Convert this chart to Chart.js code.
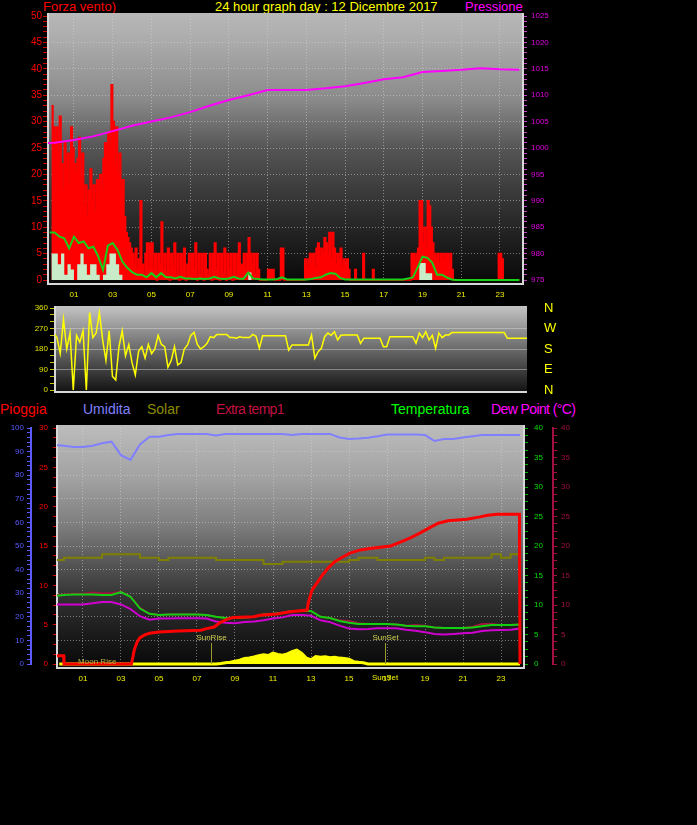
<!DOCTYPE html>
<html>
<head>
<meta charset="utf-8">
<title>24 hour graph day : 12 Dicembre 2017</title>
<script src="https://cdn.jsdelivr.net/npm/chart.js@4.4.1/dist/chart.umd.min.js"></script>
<style>
    html, body { margin: 0; padding: 0; background: #000; }
    body { width: 697px; height: 825px; position: relative; overflow: hidden; font-family: "Liberation Sans", Arial, sans-serif; }
    canvas { position: absolute; left: 0; }
    .lbl { position: absolute; font-size: 14px; line-height: 14px; white-space: nowrap; }
    .ttl { position: absolute; font-size: 13px; line-height: 13px; white-space: nowrap; top: 0; }
</style>
</head>
<body>
<div class="ttl" style="left:43px;color:#ff0000">Forza vento)</div>
<div class="ttl" style="left:215px;color:#ffff00">24 hour graph day : 12 Dicembre 2017</div>
<div class="ttl" style="left:465px;color:#ff00ff">Pressione</div>

<div class="lbl" style="left:0;top:402px;color:#ff0000">Pioggia</div>
<div class="lbl" style="left:83px;top:402px;color:#8080ff">Umidita</div>
<div class="lbl" style="left:147px;top:402px;color:#8c8c00">Solar</div>
<div class="lbl" style="left:216px;top:402px;color:#c01040;letter-spacing:-0.7px">Extra temp1</div>
<div class="lbl" style="left:391px;top:402px;color:#00ff00">Temperatura</div>
<div class="lbl" style="left:491px;top:402px;color:#ff00ff;letter-spacing:-0.6px">Dew Point (°C)</div>

<canvas id="windChart" width="697" height="300" style="top:0"></canvas>
<canvas id="dirChart" width="697" height="104" style="top:296px"></canvas>
<canvas id="weatherChart" width="697" height="300" style="top:400px"></canvas>

<script>
const hourTicks = [1, 3, 5, 7, 9, 11, 13, 15, 17, 19, 21, 23];

// raffica (km/h), un valore ogni 5 minuti a partire dalle 23:50
const windGust = [
    33, 29,
    27, 29, 24, 31, 22, 17, 26, 21, 24, 18, 29, 25,
    22, 20, 23, 27, 19, 24, 14, 18, 12, 17, 21, 15,
    18, 13, 19, 15, 20, 17, 23, 26, 21, 28, 25, 37,
    30, 22, 29, 20, 24, 17, 19, 12, 9, 8, 7, 6,
    5, 3, 6, 2, 4, 15, 3, 1, 5, 7, 2, 7,
    7, 2, 5, 0, 5, 3, 11, 2, 5, 1, 6, 0,
    5, 2, 7, 1, 5, 0, 5, 2, 6, 0, 3, 5,
    1, 5, 2, 7, 0, 5, 1, 5, 0, 5, 2, 1,
    5, 0, 5, 7, 2, 5, 0, 5, 1, 6, 0, 5,
    2, 5, 0, 5, 1, 5, 7, 3, 3, 5, 2, 5,
    8, 5, 3, 5, 1, 5, 2, 0, 0, 0, 0, 0,
    2, 2, 2, 2, 0, 0, 0, 0, 6, 6, 0, 0,
    0, 0, 0, 0, 0, 0, 0, 0, 0, 0, 0, 4,
    2, 4, 5, 3, 5, 2, 6, 7, 4, 6, 5, 8,
    7, 5, 9, 4, 9, 6, 3, 5, 4, 6, 2, 4,
    3, 4, 2, 0, 0, 0, 2, 0, 0, 0, 0, 5,
    0, 0, 0, 0, 0, 2, 0, 0, 0, 0, 0, 0,
    0, 0, 0, 0, 0, 0, 0, 0, 0, 0, 0, 0,
    0, 0, 0, 0, 0, 5, 5, 4, 5, 6, 15, 15,
    7, 10, 6, 15, 14, 10, 7, 5, 4, 5, 3, 5,
    5, 4, 5, 5, 4, 5, 2, 0, 0, 0, 0, 0,
    0, 0, 0, 0, 0, 0, 0, 0, 0, 0, 0, 0,
    0, 0, 0, 0, 0, 0, 0, 0, 0, 0, 0, 5,
    5, 4, 0, 0, 0, 0, 0, 0, 0, 0, 0, 0,
    0
];

// vento minimo, ogni 10 minuti dalle 23:50
const windLow = [
    5,
    5, 3, 5, 1, 3, 2,
    0, 3, 5, 3, 1, 3,
    3, 1, 0, 1, 3, 5,
    5, 3, 1, 0, 0, 0,
    0, 0, 0, 0, 0, 0,
    0, 0, 0, 0, 0, 0,
    0, 0, 0, 0, 0, 0,
    0, 0, 0, 0, 0, 0,
    0, 0, 0, 0, 0, 0,
    0, 0, 0, 0, 0, 0,
    1.4, 0, 0, 0, 0, 0,
    0, 0, 0, 0, 0, 0,
    0, 0, 0, 0, 0, 0,
    0, 0, 0, 0, 0, 0,
    0, 0, 0, 0, 0, 0,
    0, 0, 0, 0, 0, 0,
    0, 0, 0, 0, 0, 0,
    0, 0, 0, 0, 0, 0,
    0, 0, 0, 0, 0, 3.2,
    3.2, 1.3, 1.3, 0, 0, 0,
    0, 0, 0, 0, 0, 0,
    0, 0, 0, 0, 0, 0,
    0, 0, 0, 0, 0, 0,
    0, 0, 0, 0, 0, 0,
    0
];

// vento medio, ogni 15 minuti dalle 23:45
const windAvg = [
    9,
    9, 8.2, 7.9, 6,
    8.2, 7, 7.3, 6,
    6.3, 4.5, 1.9, 6.5,
    7, 5.7, 3.5, 2.3,
    1.5, 1, 1, 0.5,
    1.3, 0.5, 1.3, 0.5,
    0.5, 0.3, 0.6, 0.3,
    0.3, 0.2, 0.3, 0.2,
    0.3, 0.6, 0.3, 0.2,
    0.3, 0.6, 0.3, 0.2,
    1.4, 0.3, 0.2, 0.1,
    0.1, 0.1, 0.2, 0.5,
    0.1, 0.1, 0.1, 0.1,
    0.1, 0.2, 0.4, 0.5,
    1, 1.3, 1.2, 0.4,
    0.1, 0.1, 0.1, 0.1,
    0.1, 0.1, 0.1, 0.1,
    0.1, 0.1, 0.1, 0.1,
    0.1, 0.3, 0.5, 2.4,
    4.4, 4.2, 3.3, 1,
    1, 0.5, 0.1, 0,
    0, 0, 0, 0,
    0, 0, 0, 0,
    0, 0, 0, 0,
    0
];

// pressione (hPa), oraria dalle 23:00
const pressure = [1000.8, 1001.0, 1001.5, 1002.2, 1003.2, 1004.2, 1005.0, 1005.8, 1006.8, 1008.0, 1009.1,
    1010.0, 1011.0, 1011.0, 1011.0, 1011.3, 1011.7, 1012.3, 1013.0, 1013.4, 1014.4,
    1014.6, 1014.8, 1015.1, 1014.9, 1014.8];

// direzione del vento (gradi), ogni 10 minuti dalle 23:50
const windDir = [
    250,
    230, 160, 310, 180, 250, 0,
    240, 210, 260, 0, 340, 230,
    250, 340, 220, 130, 260, 60,
    44, 190, 260, 150, 200, 120,
    66, 170, 190, 140, 200, 160,
    180, 240, 200, 190, 100, 130,
    190, 110, 120, 180, 198, 240,
    253, 200, 180, 190, 205, 234,
    230, 244, 244, 244, 244, 230,
    230, 227, 234, 230, 230, 230,
    244, 236, 183, 238, 238, 238,
    238, 238, 238, 238, 238, 175,
    198, 198, 198, 198, 198, 198,
    241, 139, 168, 183, 234, 250,
    240, 256, 220, 240, 241, 241,
    241, 241, 241, 205, 227, 227,
    227, 227, 227, 227, 190, 190,
    234, 234, 234, 234, 234, 234,
    234, 234, 205, 250, 230, 256,
    220, 240, 183, 250, 230, 241,
    241, 252, 252, 252, 252, 252,
    252, 252, 252, 252, 252, 252,
    252, 252, 252, 252, 252, 252,
    227, 227, 227, 227, 227, 227,
    227
];

// pannello inferiore, valori ogni 30 minuti dalle 23:30
const humidity = [
    92.8,
    92.5, 92, 92, 92.5, 93.5, 94.2, 88.5, 86.5, 93, 96.3, 96.3, 97,
    97.5, 97.5, 97.5, 97.5, 96.8, 97.5, 97.5, 97.5, 97.5, 97.5, 97.5, 97.5,
    97, 97.5, 97.5, 97.5, 97.5, 96, 95.3, 95.5, 95.9, 96.5, 97.2, 97.2,
    97.2, 97.2, 97, 94.5, 95.3, 95.3, 96, 96.5, 97, 97, 97, 97,
    97
];
const solar = [
    44.1,
    45, 45, 45, 45, 46.5, 46.5, 46.5, 46.5, 45, 45, 44.1, 45,
    45, 45, 45, 45, 44.1, 44.1, 44.1, 44.1, 44.1, 42.4, 42.4, 43.3,
    43.3, 43.3, 43.3, 43.3, 43.3, 43.3, 44.1, 45, 45, 44.1, 44.1, 44.1,
    44.1, 44.1, 45, 44.1, 45, 45, 45, 45, 45, 46.5, 45, 46.5,
    46.5
];
const temperature = [
    11.5,
    11.7, 11.8, 11.8, 11.8, 11.7, 11.7, 12.2, 11.4, 9.4, 8.5, 8.3, 8.4,
    8.4, 8.4, 8.4, 8.3, 8.0, 7.8, 7.8, 7.9, 8.0, 8.4, 8.5, 8.7,
    9.0, 9.0, 9.0, 8.0, 7.8, 7.3, 7.0, 6.8, 6.8, 6.8, 6.8, 6.7,
    6.5, 6.4, 6.4, 6.2, 6.1, 6.1, 6.1, 6.2, 6.4, 6.6, 6.6, 6.6,
    6.7
];
const extraTemp = [
    11.6,
    11.8, 11.9, 11.9, 12.1, 12.0, 12.0, 12.3, 11.4, 9.5, 8.5, 8.3, 8.4,
    8.4, 8.4, 8.4, 8.3, 8.0, 7.8, 7.8, 7.9, 8.0, 8.4, 8.5, 8.7,
    9.0, 9.0, 9.0, 8.0, 7.8, 7.4, 7.3, 6.9, 6.8, 6.8, 6.8, 6.7,
    6.5, 6.6, 6.5, 6.2, 6.1, 6.1, 6.1, 6.3, 6.8, 6.8, 6.6, 6.6,
    6.7
];
const dewPoint = [
    10.1,
    10.1, 10.1, 10.1, 10.3, 10.5, 10.5, 10.1, 9.3, 8.1, 7.5, 7.7, 7.7,
    7.75, 7.75, 7.75, 7.7, 7.2, 7.0, 6.9, 7.1, 7.2, 7.4, 7.7, 7.9,
    8.3, 8.3, 8.2, 7.4, 7.1, 6.5, 6.0, 5.9, 5.95, 6.05, 6.05, 6.05,
    5.8, 5.65, 5.4, 5.1, 5.0, 5.1, 5.2, 5.3, 5.6, 5.7, 5.75, 5.8,
    6.0
];

// radiazione, ogni 15 minuti dalle 23:45
const radiation = [
    0,
    0, 0, 0, 0,  0, 0, 0, 0,  0, 0, 0, 0,  0, 0, 0, 0,
    0, 0, 0, 0,  0, 0, 0, 0,  0, 0, 0, 0,  0, 0, 0, 0,
    0, 0.2, 0.5, 0.8,
    1.2, 1.6, 2.3, 2.6,
    3.0, 3.5, 3.9, 3.6,
    4.6, 4.0, 3.7, 4.3,
    5.2, 5.9, 4.6, 2.5,
    1.8, 3.2, 2.9, 3.1,
    2.7, 2.9, 2.5, 2.3,
    2.0, 1.0, 0.7, 0.5,
    0, 0, 0, 0,  0, 0, 0, 0,  0, 0, 0, 0,  0, 0, 0, 0,
    0, 0, 0, 0,  0, 0, 0, 0,  0, 0, 0, 0,  0, 0, 0, 0,
    0
];

// pioggia cumulata (mm)
const rainHours = [-0.5, -0.02, 0, 3.55, 3.7, 3.85, 4.0, 4.25, 4.5, 5.0, 6.0, 7.2, 7.5, 7.9, 8.2,
    8.6, 8.9, 10.0, 10.3, 11.2, 11.9, 12.8, 12.85, 13.05, 13.3, 13.6, 13.9, 14.25, 14.6, 15.05,
    15.6, 16.2, 17.2, 17.7, 18.2, 18.7, 19.3, 19.7, 20.2, 21.2, 21.9, 22.3, 22.8, 23.97, 24.0];
const rainMm = [1.05, 1.05, 0, 0, 1.8, 2.8, 3.35, 3.7, 3.9, 4.07, 4.2, 4.3, 4.5, 4.7, 5.25,
    5.7, 5.9, 6.0, 6.2, 6.35, 6.65, 6.85, 7.7, 9.4, 10.25, 11.3, 12.2, 13.0, 13.5, 14.1,
    14.5, 14.7, 15.0, 15.5, 16.0, 16.6, 17.4, 17.9, 18.2, 18.4, 18.7, 18.9, 19.05, 19.05, 0];

const sunRiseHour = 7.75;
const sunSetHour = 16.9;
const moonRiseHour = 1.75;

const compassDegrees = [0, 90, 180, 270, 360];
const compassLabels = ['N', 'E', 'S', 'W', 'N'];

Chart.defaults.font.family = '"Liberation Sans", Arial, sans-serif';
Chart.defaults.animation = false;

const gridColor = 'rgba(215,215,215,0.5)';
const noClip = { left: 0, top: false, right: false, bottom: false };

function toPoints(values, startHour, stepMin) {
    return values.map((v, i) => ({ x: startHour + i * stepMin / 60, y: v }));
}

function steps(min, max, step) {
    let out = [];
    for (let v = min; v <= max + 1e-9; v += step) out.push({ value: Math.round(v * 1000) / 1000 });
    return out;
}

function pad2(v) {
    return String(v).padStart(2, '0');
}

const panelBg = {
    id: 'panelBg',
    beforeDraw(chart, args, opts) {
        const ctx = chart.ctx, a = chart.chartArea;
        const top = a.top - opts.extTop, bottom = a.bottom + opts.extBottom;
        const g = ctx.createLinearGradient(0, top, 0, bottom);
        opts.stops.forEach(s => g.addColorStop(s[0], s[1]));
        ctx.save();
        ctx.fillStyle = g;
        ctx.fillRect(a.left, top, a.right - a.left, bottom - top);
        ctx.restore();
    },
    beforeDatasetsDraw(chart, args, opts) {
        const ctx = chart.ctx, a = chart.chartArea;
        const top = a.top - opts.extTop, bottom = a.bottom + opts.extBottom;
        ctx.save();
        ctx.strokeStyle = '#d8d8d8';
        ctx.lineWidth = 2;
        ctx.beginPath();
        ctx.moveTo(a.left, top);
        ctx.lineTo(a.left, bottom);
        ctx.lineTo(a.right, bottom);
        if (opts.rightBorder) ctx.lineTo(a.right, top);
        ctx.stroke();
        ctx.restore();
    }
};

const sunMarks = {
    id: 'sunMarks',
    afterDatasetsDraw(chart) {
        const ctx = chart.ctx, a = chart.chartArea, x = chart.scales.x;
        ctx.save();
        ctx.font = '8px "Liberation Sans", Arial, sans-serif';
        ctx.textAlign = 'center';
        ctx.textBaseline = 'middle';
        [[sunRiseHour, 'SunRise'], [sunSetHour, 'SunSet']].forEach(([h, txt]) => {
            const px = Math.round(x.getPixelForValue(h)) + 0.5;
            ctx.strokeStyle = '#9a9a30';
            ctx.lineWidth = 1;
            ctx.beginPath();
            ctx.moveTo(px, a.bottom - 21);
            ctx.lineTo(px, a.bottom);
            ctx.stroke();
            ctx.fillStyle = '#d0d050';
            ctx.fillText(txt, px, a.bottom - 26);
        });
        ctx.fillStyle = '#b0b040';
        ctx.fillText('Moon Rise', x.getPixelForValue(moonRiseHour), a.bottom - 2);
        ctx.fillStyle = '#f0f000';
        ctx.fillText('SunSet', x.getPixelForValue(sunSetHour), a.bottom + 14);
        ctx.restore();
    }
};

function hourAxis(min, max, height, padding) {
    return {
        type: 'linear', min: min, max: max,
        afterBuildTicks: s => { s.ticks = hourTicks.map(v => ({ value: v })); },
        afterFit: s => { s.height = height; },
        ticks: { color: '#f0f000', font: { size: 8 }, padding: padding, autoSkip: false, maxRotation: 0, callback: v => pad2(v) },
        grid: { color: gridColor, drawTicks: false },
        border: { display: false, dash: [1, 2] }
    };
}

// --- vento e pressione ---
new Chart(document.getElementById('windChart'), {
    type: 'line',
    data: {
        datasets: [
            { label: 'Pressione', data: toPoints(pressure, -1, 60), yAxisID: 'yP', borderColor: '#ff00ff', borderWidth: 2, pointRadius: 0, order: 0 },
            { label: 'Vento medio', data: toPoints(windAvg, -0.25, 15), yAxisID: 'y', borderColor: '#18d018', borderWidth: 2, pointRadius: 0, order: 1, clip: noClip },
            { label: 'Vento min', data: toPoints(windLow, -1 / 6, 10), yAxisID: 'y', stepped: true, fill: 'origin', backgroundColor: '#c8ecc8', borderWidth: 0, pointRadius: 0, order: 2 },
            { label: 'Forza vento', data: toPoints(windGust, -1 / 6, 5), yAxisID: 'y', stepped: true, fill: 'origin', backgroundColor: '#ff0000', borderColor: '#ff0000', borderWidth: 1.5, pointRadius: 0, order: 3, clip: noClip }
        ]
    },
    options: {
        responsive: false,
        events: [],
        layout: { padding: { top: 16, right: 124, bottom: 0, left: 0 } },
        plugins: {
            legend: { display: false },
            tooltip: { enabled: false },
            panelBg: { extTop: 3, extBottom: 4, rightBorder: true,
                stops: [[0, '#b8b8b8'], [0.1, '#acacac'], [0.32, '#8a8a8a'], [0.5, '#555555'], [0.76, '#2a2a2a'], [1, '#080808']] }
        },
        scales: {
            x: hourAxis(-0.341, 24.19, 20, 10),
            y: {
                position: 'left', min: 0, max: 50,
                afterBuildTicks: s => { s.ticks = steps(0, 50, 1); },
                afterFit: s => { s.width = 48; },
                ticks: { color: '#ff0000', font: { size: 10 }, padding: 1, autoSkip: false, callback: v => v % 5 === 0 ? v : '' },
                grid: { color: c => (c.tick && c.tick.value % 5 === 0 && c.tick.value > 0 && c.tick.value < 50) ? gridColor : 'transparent', tickColor: '#d00000', tickLength: 5 },
                border: { display: false, dash: [1, 2] }
            },
            yP: {
                position: 'right', min: 975, max: 1025,
                afterBuildTicks: s => { s.ticks = steps(975, 1025, 1); },
                afterFit: s => { s.width = 50; },
                ticks: { color: '#e000e0', font: { size: 8 }, padding: 4, autoSkip: false, callback: v => v % 5 === 0 ? v : '' },
                grid: { drawOnChartArea: false, tickColor: '#c040c0', tickLength: 4 },
                border: { display: false }
            }
        }
    },
    plugins: [panelBg]
});

// --- direzione del vento ---
new Chart(document.getElementById('dirChart'), {
    type: 'line',
    data: {
        datasets: [
            { label: 'Direzione', data: toPoints(windDir, -1 / 6, 10), borderColor: '#ffff00', borderWidth: 1.5, pointRadius: 0 }
        ]
    },
    options: {
        responsive: false,
        events: [],
        layout: { padding: { top: 12, right: 130, bottom: 10, left: 0 } },
        plugins: {
            legend: { display: false },
            tooltip: { enabled: false },
            panelBg: { extTop: 2, extBottom: 2, rightBorder: false,
                stops: [[0, '#c4c4c4'], [0.5, '#6a6a6a'], [1, '#121212']] }
        },
        scales: {
            x: { type: 'linear', min: -0.1, max: 24, display: false },
            y: {
                position: 'left', min: 0, max: 360,
                afterBuildTicks: s => { s.ticks = steps(0, 360, 30); },
                afterFit: s => { s.width = 55; },
                ticks: { color: '#e0e000', font: { size: 8 }, padding: 2, autoSkip: false, callback: v => v % 90 === 0 ? v : '' },
                grid: { color: c => (c.tick && c.tick.value % 90 === 0 && c.tick.value > 0 && c.tick.value < 360) ? 'rgba(220,220,220,0.45)' : 'transparent', tickColor: '#c8c800', tickLength: 5 },
                border: { display: false }
            },
            yC: {
                position: 'right', min: 0, max: 360,
                afterBuildTicks: s => { s.ticks = compassDegrees.map(v => ({ value: v })); },
                afterFit: s => { s.width = 40; },
                ticks: { color: '#ffff00', font: { size: 13 }, padding: 1, autoSkip: false, callback: (v, i) => compassLabels[i] },
                grid: { drawOnChartArea: false, drawTicks: true, tickLength: 16, tickColor: 'transparent' },
                border: { display: false }
            }
        }
    },
    plugins: [panelBg]
});

// --- pioggia, umidita, temperature ---
new Chart(document.getElementById('weatherChart'), {
    type: 'line',
    data: {
        datasets: [
            { label: 'Pioggia', data: rainHours.map((h, i) => ({ x: h, y: rainMm[i] })), yAxisID: 'yR', borderColor: '#ff0000', borderWidth: 3, pointRadius: 0, order: 0, clip: noClip },
            { label: 'Temperatura', data: toPoints(temperature, -0.5, 30), yAxisID: 'yT', borderColor: '#10d010', borderWidth: 2, pointRadius: 0, order: 1, clip: noClip },
            { label: 'Dew Point', data: toPoints(dewPoint, -0.5, 30), yAxisID: 'yT', borderColor: '#d000d0', borderWidth: 2, pointRadius: 0, order: 2, clip: noClip },
            { label: 'Extra temp1', data: toPoints(extraTemp, -0.5, 30), yAxisID: 'yX', borderColor: '#a01040', borderWidth: 2, pointRadius: 0, order: 3, clip: noClip },
            { label: 'Umidita', data: toPoints(humidity, -0.5, 30), yAxisID: 'yH', borderColor: '#8080ff', borderWidth: 2, pointRadius: 0, order: 4, clip: noClip },
            { label: 'Solar', data: toPoints(solar, -0.5, 30), yAxisID: 'yH', stepped: true, borderColor: '#808000', borderWidth: 2, pointRadius: 0, order: 5, clip: noClip },
            { label: 'Radiazione', data: toPoints(radiation, -0.25, 15), yAxisID: 'yH', fill: 'origin', backgroundColor: '#ffff00', borderColor: '#ffff00', borderWidth: 3, pointRadius: 0, order: 6, clip: noClip }
        ]
    },
    options: {
        responsive: false,
        events: [],
        layout: { padding: { top: 28, right: 119, bottom: 0, left: 0 } },
        plugins: {
            legend: { display: false },
            tooltip: { enabled: false },
            panelBg: { extTop: 3, extBottom: 4, rightBorder: true,
                stops: [[0, '#bcbcbc'], [0.23, '#a0a0a0'], [0.41, '#7e7e7e'], [0.56, '#585858'], [0.72, '#303030'], [0.88, '#181818'], [1, '#080808']] }
        },
        scales: {
            x: hourAxis(-0.368, 24.21, 36, 10),
            yH: {
                position: 'left', weight: 1, min: 0, max: 100,
                afterBuildTicks: s => { s.ticks = steps(0, 100, 2); },
                afterFit: s => { s.width = 31; },
                ticks: { color: '#5a5aff', font: { size: 8 }, padding: 3, autoSkip: false, callback: v => v % 10 === 0 ? v : '' },
                grid: { color: c => (c.tick && c.tick.value % 10 === 0 && c.tick.value > 0 && c.tick.value < 100) ? gridColor : 'transparent', tickColor: '#5a5aff', tickLength: 4 },
                border: { display: true, color: '#5a5aff', width: 2, dash: [1, 2] }
            },
            yR: {
                position: 'left', weight: 0, min: 0, max: 30,
                afterBuildTicks: s => { s.ticks = steps(0, 30, 1.25); },
                afterFit: s => { s.width = 26; },
                ticks: { color: '#ff0000', font: { size: 8 }, padding: 5, autoSkip: false, callback: v => v % 5 === 0 ? v : '' },
                grid: { drawOnChartArea: false, tickColor: '#e00000', tickLength: 4 },
                border: { display: false }
            },
            yT: {
                position: 'right', weight: 0, min: 0, max: 40,
                afterBuildTicks: s => { s.ticks = steps(0, 40, 1.25); },
                afterFit: s => { s.width = 29; },
                ticks: { color: '#00e000', font: { size: 8 }, padding: 6, autoSkip: false, callback: v => v % 5 === 0 ? v : '' },
                grid: { drawOnChartArea: false, tickColor: '#00b000', tickLength: 4 },
                border: { display: false }
            },
            yX: {
                position: 'right', weight: 1, min: 0, max: 40,
                afterBuildTicks: s => { s.ticks = steps(0, 40, 1.25); },
                afterFit: s => { s.width = 25; },
                ticks: { color: '#a01040', font: { size: 8 }, padding: 4, autoSkip: false, callback: v => v % 5 === 0 ? v : '' },
                grid: { drawOnChartArea: false, tickColor: '#a01040', tickLength: 4 },
                border: { display: true, color: '#a01040', width: 2 }
            }
        }
    },
    plugins: [panelBg, sunMarks]
});
</script>
</body>
</html>
